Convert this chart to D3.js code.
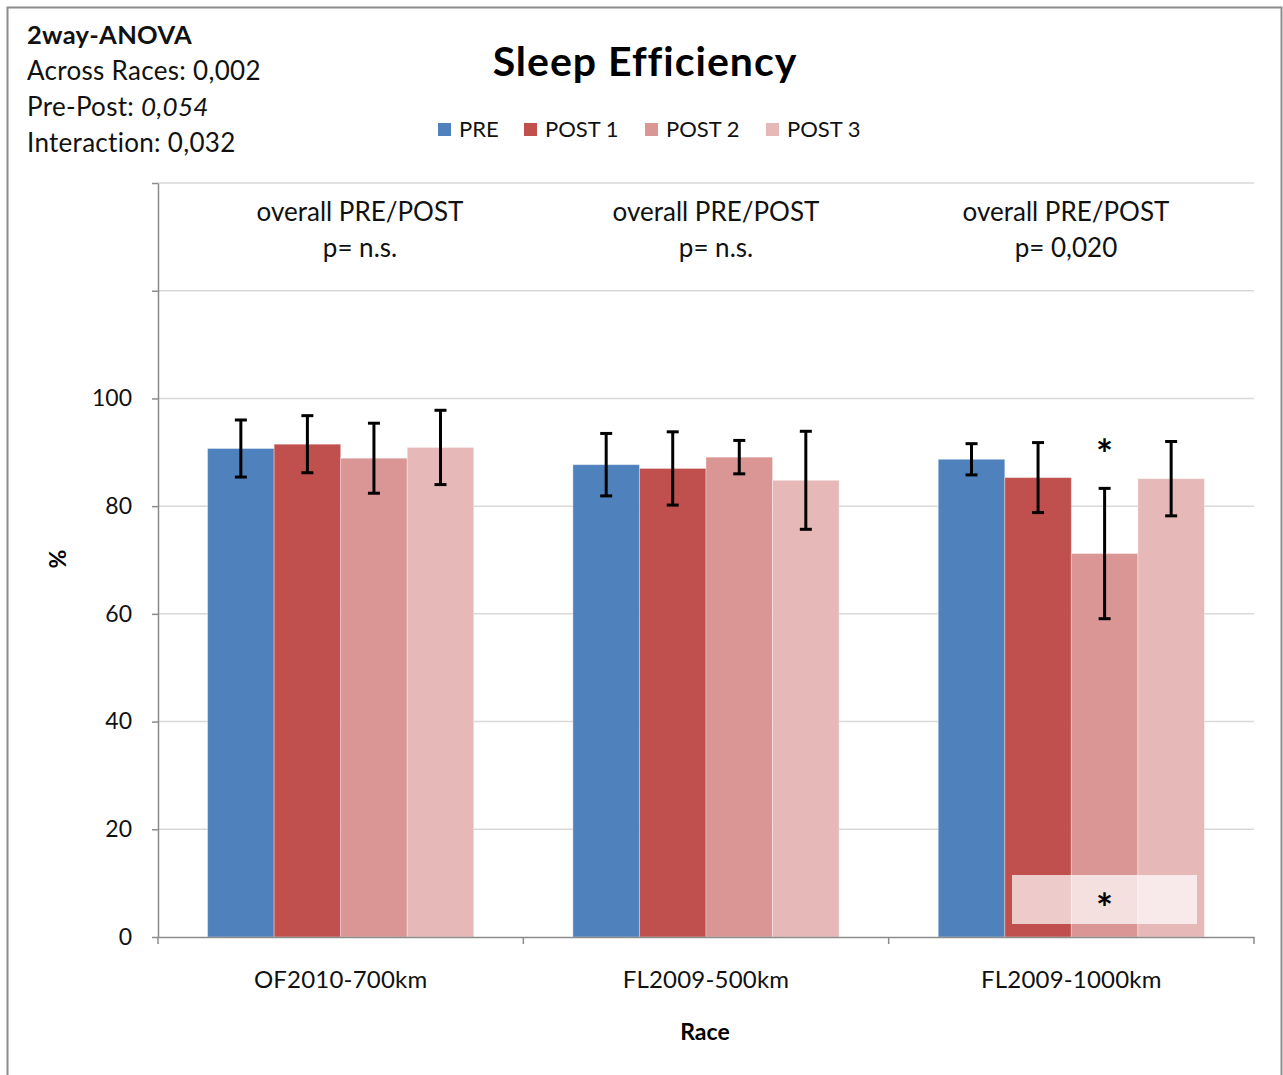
<!DOCTYPE html>
<html>
<head>
<meta charset="utf-8">
<script src="https://cdn.jsdelivr.net/npm/d3@7"></script>
<style>
  body { margin: 0; background: #fff; }
  svg { display: block; font-family: Lato, "Open Sans", sans-serif; }
</style>
</head>
<body>
<div id="chart"></div>
<script>
// data
const races = ["OF2010-700km", "FL2009-500km", "FL2009-1000km"];
const series = ["PRE", "POST 1", "POST 2", "POST 3"];
const colors = ["#4f81bd", "#c0504d", "#d99694", "#e6b9b8"];

const preMean   = [90.7, 87.7, 88.7];
const post1Mean = [91.5, 87.0, 85.3];
const post2Mean = [88.9, 89.1, 71.2];
const post3Mean = [90.9, 84.8, 85.1];

const preErr   = [5.3, 5.8, 2.9];
const post1Err = [5.3, 6.8, 6.5];
const post2Err = [6.5, 3.1, 12.1];
const post3Err = [6.9, 9.1, 6.9];

const yTicks = [0, 20, 40, 60, 80, 100, 120, 140];
const yLabels = ["0", "20", "40", "60", "80", "100", "", ""];

const anovaLines = ["2way-ANOVA", "Across Races: 0,002", "Pre-Post: ", "Interaction: 0,032"];
const overallLabel = "overall PRE/POST";
const pValues = ["p= n.s.", "p= n.s.", "p= 0,020"];

const means = [preMean, post1Mean, post2Mean, post3Mean];
const errs = [preErr, post1Err, post2Err, post3Err];

const rows = [];
races.forEach((r, i) => {
  series.forEach((s, j) => {
    rows.push({ race: r, series: s, idx: j, mean: means[j][i], err: errs[j][i] });
  });
});

const W = 1283, H = 1075;
const svg = d3.select("#chart").append("svg")
  .attr("width", W)
  .attr("height", H);

// outer frame
svg.append("rect")
  .attr("x", 7.5).attr("y", 7.5)
  .attr("width", 1274).attr("height", H)
  .attr("fill", "#fff")
  .attr("stroke", "#8c8c8c")
  .attr("stroke-width", 2);

const plot = { left: 158, right: 1254, top: 183, bottom: 937 };

const xScale = d3.scaleBand().domain(races).range([plot.left, plot.right]);
const xInner = d3.scaleBand().domain(series).range([0, xScale.bandwidth()]).paddingOuter(0.745);
const yScale = d3.scaleLinear().domain([0, 140]).range([plot.bottom, plot.top]);

// gridlines
svg.append("g")
  .selectAll("line")
  .data(yTicks.slice(1))
  .join("line")
  .attr("x1", plot.left).attr("x2", plot.right)
  .attr("y1", d => yScale(d)).attr("y2", d => yScale(d))
  .attr("stroke", "#d9d9d9")
  .attr("stroke-width", 1.5);

// bars
svg.append("g")
  .selectAll("rect")
  .data(rows)
  .join("rect")
  .attr("x", d => xScale(d.race) + xInner(d.series))
  .attr("y", d => yScale(d.mean))
  .attr("width", xInner.bandwidth())
  .attr("height", d => yScale(0) - yScale(d.mean))
  .attr("fill", d => colors[d.idx])
  .attr("stroke", "rgba(255,255,255,0.35)")
  .attr("stroke-width", 1);

// error bars
const eb = svg.append("g").attr("stroke", "#000").attr("stroke-width", 3);
rows.forEach(d => {
  const cx = xScale(d.race) + xInner(d.series) + xInner.bandwidth() / 2;
  const y1 = yScale(d.mean + d.err), y2 = yScale(d.mean - d.err);
  eb.append("line").attr("x1", cx).attr("x2", cx).attr("y1", y1).attr("y2", y2);
  eb.append("line").attr("x1", cx - 6).attr("x2", cx + 6).attr("y1", y1).attr("y2", y1);
  eb.append("line").attr("x1", cx - 6).attr("x2", cx + 6).attr("y1", y2).attr("y2", y2);
});

// y axis
const yAxis = d3.axisLeft(yScale)
  .tickValues(yTicks)
  .tickFormat((d, i) => yLabels[i])
  .tickSize(6)
  .tickSizeOuter(0)
  .tickPadding(20);
const yg = svg.append("g")
  .attr("transform", `translate(${plot.left},0)`)
  .call(yAxis);
yg.select(".domain").attr("stroke", "#8c8c8c").attr("stroke-width", 1.5);
yg.selectAll(".tick line").attr("stroke", "#8c8c8c").attr("stroke-width", 1.5);
yg.selectAll(".tick text")
  .attr("font-size", 23)
  .attr("fill", "#111")
  .attr("font-family", "Lato, sans-serif");

// x axis
const xAxis = d3.axisBottom(xScale).tickSize(0).tickPadding(34);
const xg = svg.append("g")
  .attr("transform", `translate(0,${plot.bottom})`)
  .call(xAxis);
xg.select(".domain").attr("stroke", "#8c8c8c").attr("stroke-width", 1.5);
xg.selectAll(".tick text")
  .attr("font-size", 24)
  .attr("letter-spacing", 0.2)
  .attr("fill", "#111")
  .attr("font-family", "Lato, sans-serif");
// category separators
xg.append("g")
  .selectAll("line")
  .data(races)
  .join("line")
  .attr("x1", d => xScale(d) + xScale.bandwidth())
  .attr("x2", d => xScale(d) + xScale.bandwidth())
  .attr("y1", 0).attr("y2", 7)
  .attr("stroke", "#8c8c8c")
  .attr("stroke-width", 1.5);
xg.append("line")
  .attr("x1", plot.left).attr("x2", plot.left)
  .attr("y1", 0).attr("y2", 7)
  .attr("stroke", "#8c8c8c")
  .attr("stroke-width", 1.5);

// axis titles
svg.append("text")
  .attr("x", 705).attr("y", 1040)
  .attr("text-anchor", "middle")
  .attr("font-size", 23).attr("font-weight", "bold")
  .text("Race");

svg.append("text")
  .attr("transform", "translate(66,559) rotate(-90)")
  .attr("text-anchor", "middle")
  .attr("font-size", 23).attr("font-weight", "bold")
  .text("%");

// title
svg.append("text")
  .attr("x", 645).attr("y", 76)
  .attr("text-anchor", "middle")
  .attr("font-size", 41).attr("font-weight", "bold")
  .attr("letter-spacing", 1)
  .text("Sleep Efficiency");

// legend
const legX = [438, 524, 645, 766];
const leg = svg.append("g");
series.forEach((s, j) => {
  leg.append("rect")
    .attr("x", legX[j]).attr("y", 123)
    .attr("width", 13).attr("height", 13)
    .attr("fill", colors[j]);
  leg.append("text")
    .attr("x", legX[j] + 21).attr("y", 137)
    .attr("font-size", 22)
    .attr("fill", "#111")
    .text(s);
});

// ANOVA box text
const an = svg.append("g").attr("fill", "#111").attr("letter-spacing", 0.3);
anovaLines.forEach((t, i) => {
  const txt = an.append("text")
    .attr("x", 27).attr("y", 44 + i * 36)
    .attr("font-weight", i === 0 ? "bold" : "normal")
    .attr("font-size", i === 0 ? 25.5 : 26)
    .text(t);
  if (i === 2) {
    txt.append("tspan").attr("font-style", "italic").text("0,054");
  }
});

// overall annotations per race
const annX = [360, 716, 1066];
races.forEach((r, i) => {
  svg.append("text")
    .attr("x", annX[i]).attr("y", 221)
    .attr("text-anchor", "middle")
    .attr("font-size", 26).attr("fill", "#111")
    .text(overallLabel);
  svg.append("text")
    .attr("x", annX[i]).attr("y", 257)
    .attr("text-anchor", "middle")
    .attr("font-size", 26).attr("fill", "#111")
    .text(pValues[i]);
});

// significance marks on FL2009-1000km / POST 2
const sig = rows.find(d => d.race === "FL2009-1000km" && d.series === "POST 2");
const sigX = xScale(sig.race) + xInner(sig.series) + xInner.bandwidth() / 2;
svg.append("text")
  .attr("x", sigX).attr("y", yScale(sig.mean + sig.err) - 19)
  .attr("text-anchor", "middle")
  .attr("font-size", 40).attr("font-weight", "bold")
  .text("*");

svg.append("rect")
  .attr("x", 1012).attr("y", 875)
  .attr("width", 185).attr("height", 49)
  .attr("fill", "#fff")
  .attr("fill-opacity", 0.7);
svg.append("text")
  .attr("x", sigX).attr("y", 923)
  .attr("text-anchor", "middle")
  .attr("font-size", 40).attr("font-weight", "bold")
  .text("*");
</script>
</body>
</html>
